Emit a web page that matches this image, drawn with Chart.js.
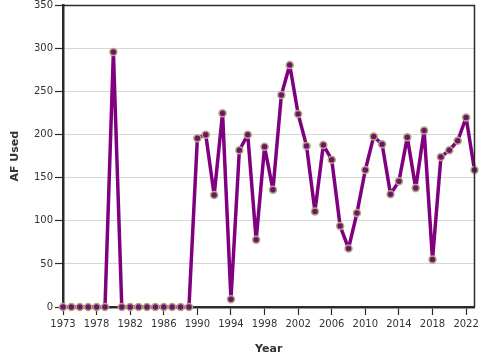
<!DOCTYPE html>
<html>
<head>
<meta charset="utf-8">
<script src="https://cdn.jsdelivr.net/npm/chart.js@4/dist/chart.umd.min.js"></script>
<style>
    html, body { margin: 0; padding: 0; background: #fff; }
    #wrap { width: 480px; height: 360px; }
</style>
</head>
<body>
<div id="wrap"><canvas id="chart" width="480" height="360"></canvas></div>
<script>
/* =====================================================
   DATA
===================================================== */

const years = [
    1974, 1975, 1976, 1977, 1978, 1979, 1980, 1981, 1982, 1983,
    1984, 1985, 1986, 1987, 1988, 1989, 1990, 1991, 1992, 1993,
    1994, 1995, 1996, 1997, 1998, 1999, 2000, 2001, 2002, 2003,
    2004, 2005, 2006, 2007, 2008, 2009, 2010, 2011, 2012, 2013,
    2014, 2015, 2016, 2017, 2018, 2019, 2020, 2021, 2022, 2023
];

const afUsed = [
    0, 0, 0, 0, 0, 0, 296, 0, 0, 0,
    0, 0, 0, 0, 0, 0, 196, 200, 130, 225,
    9, 182, 200, 78, 186, 136, 246, 281, 224, 187,
    111, 188, 171, 94, 68, 109, 159, 198, 189, 131,
    146, 197, 138, 205, 55, 174, 182, 193, 220, 159
];

const tickYears = [1974, 1978, 1982, 1986, 1990, 1994, 1998, 2002, 2006, 2010, 2014, 2018, 2022];
const tickLabels = ["1973", "1978", "1982", "1986", "1990", "1994", "1998", "2002", "2006", "2010", "2014", "2018", "2022"];


/* =====================================================
   STYLE
===================================================== */

const FONT = "'DejaVu Sans', Verdana, sans-serif";
const TEXT = "#333333";
const AXIS = "#2b2b2b";

// thin frame on top / right of the plot
const framePlugin = {
    id: "frame",
    afterDraw(chart) {
        const {ctx, chartArea: a} = chart;
        ctx.save();
        ctx.strokeStyle = AXIS;
        ctx.lineWidth = 1.5;
        ctx.beginPath();
        ctx.moveTo(a.left, a.top);
        ctx.lineTo(a.right, a.top);
        ctx.lineTo(a.right, a.bottom);
        ctx.stroke();
        ctx.restore();
    }
};


/* =====================================================
   CHART
===================================================== */

new Chart(document.getElementById("chart"), {
    type: "line",
    data: {
        datasets: [{
            label: "AF Used",
            data: years.map((y, i) => ({x: y, y: afUsed[i]})),
            borderColor: "#800080",
            borderWidth: 3.5,
            borderJoinStyle: "round",
            pointRadius: 3.5,
            pointBackgroundColor: "#6e136e",
            pointBorderColor: "#b3a97c",
            pointBorderWidth: 1.5,
            tension: 0,
            clip: false
        }]
    },
    options: {
        responsive: false,
        animation: false,
        layout: { padding: { top: 4, right: 5, left: 9, bottom: 4 } },
        plugins: {
            legend: { display: false },
            tooltip: { enabled: false }
        },
        scales: {
            x: {
                type: "linear",
                min: 1974,
                max: 2023,
                afterBuildTicks: s => { s.ticks = tickYears.map(v => ({value: v})); },
                afterFit: s => {
                    s.height = 49;
                    s.paddingLeft = 0;
                    s.paddingRight = 0;
                },
                ticks: {
                    autoSkip: false,
                    maxRotation: 0,
                    padding: 3,
                    color: TEXT,
                    font: { family: FONT, size: 10 },
                    callback: (v, i) => tickLabels[i]
                },
                grid: {
                    drawOnChartArea: false,
                    tickLength: 8,
                    tickColor: AXIS,
                    tickWidth: 1.2
                },
                border: { color: AXIS, width: 2.5 },
                title: {
                    display: true,
                    text: "Year",
                    color: TEXT,
                    font: { family: FONT, size: 11, weight: "bold" },
                    padding: { top: 6, bottom: 0 }
                }
            },
            y: {
                min: 0,
                max: 350,
                afterFit: s => {
                    s.width = 54;
                    s.paddingTop = 0;
                    s.paddingBottom = 0;
                },
                ticks: {
                    stepSize: 50,
                    padding: 2,
                    color: TEXT,
                    font: { family: FONT, size: 10 }
                },
                grid: {
                    color: "#d6d6d6",
                    lineWidth: 1,
                    tickLength: 8,
                    tickColor: AXIS,
                    tickWidth: 1.2
                },
                border: { color: AXIS, width: 2.5 },
                title: {
                    display: true,
                    text: "AF Used",
                    color: TEXT,
                    font: { family: FONT, size: 11, weight: "bold" },
                    padding: { top: 0, bottom: 4 }
                }
            }
        }
    },
    plugins: [framePlugin]
});
</script>
</body>
</html>
